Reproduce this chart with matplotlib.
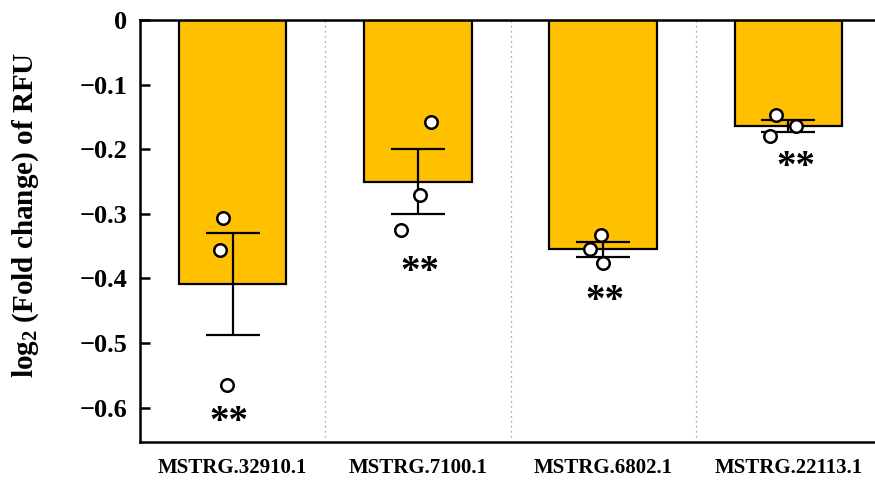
import matplotlib
matplotlib.use("Agg")
import matplotlib.pyplot as plt
import numpy as np

plt.rcParams['font.family'] = ['Liberation Serif', 'DejaVu Serif']
plt.rcParams['font.weight'] = 'bold'
plt.rcParams['mathtext.default'] = 'regular'

# Transcripts and their log2 fold change in RFU
genes = ["MSTRG.32910.1", "MSTRG.7100.1", "MSTRG.6802.1", "MSTRG.22113.1"]
means = [-0.409, -0.250, -0.355, -0.164]
sem = [0.079, 0.050, 0.012, 0.009]
# Individual replicates
reps = [
    [-0.306, -0.356, -0.565],
    [-0.157, -0.270, -0.325],
    [-0.333, -0.355, -0.376],
    [-0.147, -0.164, -0.180],
]
rep_offsets = [
    [-0.05, -0.07, -0.03],
    [0.07, 0.01, -0.09],
    [-0.01, -0.07, 0.00],
    [-0.07, 0.04, -0.10],
]
signif = ["**", "**", "**", "**"]
star_y = [-0.623, -0.391, -0.436, -0.228]
star_dx = [-0.02, 0.01, 0.01, 0.04]

fig = plt.figure(figsize=(8.75, 4.82), dpi=100)
ax = fig.add_axes([0.16, 0.0836, 0.84, 0.8743])

x = np.arange(len(genes))
ax.bar(x, means, width=0.58, color="#FFC000", edgecolor="black",
       linewidth=1.6, zorder=2)
ax.errorbar(x, means, yerr=sem, fmt="none", ecolor="black",
            elinewidth=1.6, capsize=19.5, capthick=1.6, zorder=3)
for i, (vals, offs) in enumerate(zip(reps, rep_offsets)):
    ax.plot(x[i] + np.array(offs), vals, "o", ms=9, mfc="white",
            mec="black", mew=1.8, zorder=4, linestyle="none")
    ax.text(x[i] + star_dx[i], star_y[i], signif[i], ha="center",
            va="center", fontsize=28, fontweight="bold", zorder=5)

for sep in [0.5, 1.5, 2.5]:
    ax.axvline(sep, color="#8a8a8a", linestyle=(0, (1, 3)), linewidth=0.9,
               zorder=1)

ax.set_xlim(-0.5, 3.467)
ax.set_ylim(-0.653, 0)
ax.set_yticks([0, -0.1, -0.2, -0.3, -0.4, -0.5, -0.6])
ax.set_yticklabels(["0", "\u22120.1", "\u22120.2", "\u22120.3", "\u22120.4",
                    "\u22120.5", "\u22120.6"])
ax.set_xticks(x)
ax.set_xticklabels(genes)

for side in ["left", "bottom", "top"]:
    ax.spines[side].set_linewidth(1.8)
ax.spines["right"].set_visible(False)

ax.tick_params(axis="y", direction="in", length=7, width=1.8,
               labelsize=19, pad=9)
ax.tick_params(axis="x", length=0, labelsize=15, pad=12)
for lbl in ax.get_xticklabels() + ax.get_yticklabels():
    lbl.set_fontweight("bold")

fig.text(26 / 875, 1 - 215 / 482, "log$_{2}$ (Fold change) of RFU",
         rotation=90, ha="center", va="center", fontsize=21,
         fontweight="bold")

fig.savefig("out.png", dpi=100)
